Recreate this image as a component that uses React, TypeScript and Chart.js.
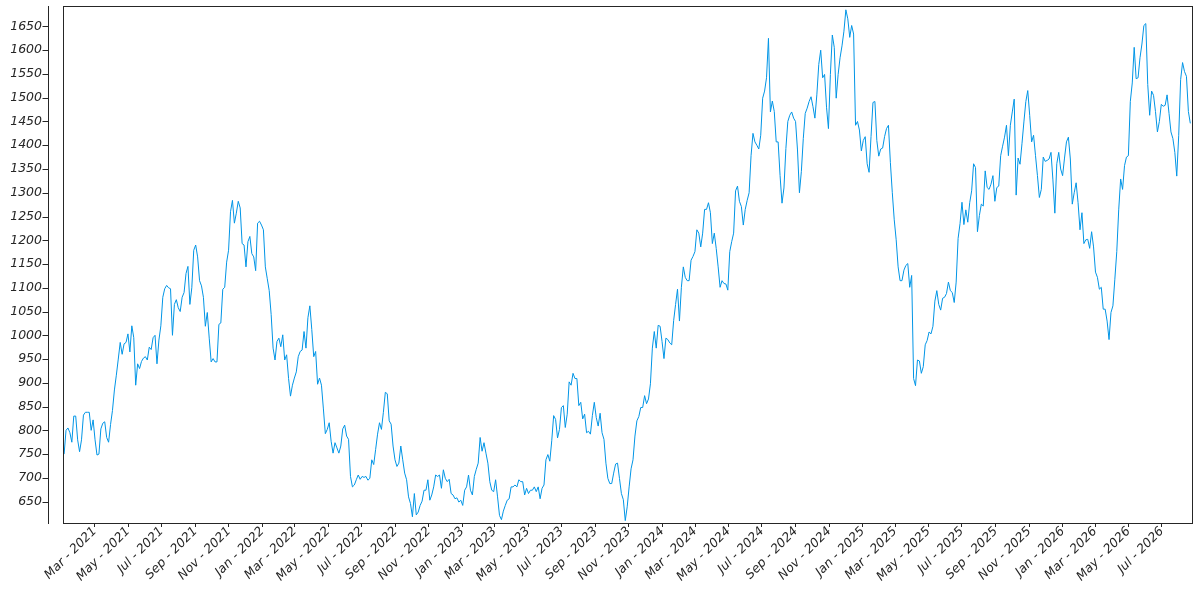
import { useEffect, useRef } from "react";
import {
  Chart,
  LineController,
  LineElement,
  PointElement,
  LinearScale,
} from "chart.js";

Chart.register(LineController, LineElement, PointElement, LinearScale);

const START_DATE = "2021-01-04";
const SAMPLE_DAYS = 3.5325;

const X_MIN_DATE = "2021-01-02";
const X_MAX_DATE = "2026-08-25";
const Y_MIN = 605;
const Y_MAX = 1693;

const prices2021 = [
  750, 800, 805, 795, 775, 830, 830, 780, 755, 780, 832, 838, 838, 838, 800, 822, 780, 748, 750, 803,
  815, 818, 785, 775, 812, 842, 885, 916, 950, 985, 960, 982, 985, 1003, 965, 1020, 995, 895, 940, 930,
  945, 952, 955, 948, 975, 970, 995, 1000, 940, 990, 1020, 1080, 1098, 1105, 1100, 1098, 1000, 1065,
  1075, 1058, 1050, 1080, 1090, 1130, 1145, 1065, 1100, 1179,
  1190, 1165, 1115, 1104, 1080, 1019, 1048, 994, 944, 951, 944, 944, 1023, 1026, 1097, 1101, 1154,
  1179, 1260, 1284, 1236, 1257, 1282, 1268, 1193, 1190, 1144, 1197, 1208, 1172, 1165, 1136,
];

const prices2022 = [
  1236, 1240, 1232, 1222, 1144, 1119, 1094, 1044, 973, 948, 987, 994, 976, 1001, 948, 959, 909, 872,
  895, 910, 923, 955, 966, 969, 1008, 973, 1037, 1062, 1012, 955, 966, 897,
  910, 895, 845, 793, 802, 816, 777, 752, 774, 763, 752, 767, 803, 811, 788, 781, 703, 681, 685, 696,
  706, 697, 703, 701, 703, 695, 699, 738, 728, 760, 792, 816, 802, 838, 880, 877, 820, 813, 767, 738,
  724, 731, 767, 738, 710, 696, 660, 646, 618, 667, 622, 628, 642, 651, 674, 674, 696, 653, 664, 681,
  706, 703, 706, 678,
];

const prices2023 = [
  717, 699, 692, 697, 667, 664, 656, 658, 649, 653, 642, 674, 681, 706, 674, 664, 703, 718, 731, 785,
  756, 774, 752, 731, 692, 674, 671, 696, 660, 621, 612, 630, 642, 653, 656, 681, 681, 685, 681, 696,
  692, 692, 664, 678, 667, 674, 674, 681, 671, 681, 656, 678, 685, 738, 749, 735, 778, 831, 823, 784,
  802, 848, 852, 806, 834, 902,
  895, 920, 909, 909, 852, 859, 824, 834, 795, 798, 792, 831, 859, 827, 809, 836, 795, 781, 731, 699,
  688, 688, 710, 729, 731, 699, 667, 654, 610, 639, 681, 719, 738, 788, 820, 829, 848, 848, 873, 856,
  866, 898,
];

const prices2024 = [
  973, 1008, 973, 1021, 1019, 987, 951, 994, 991, 984, 980, 1031, 1065, 1097, 1030, 1101, 1144, 1122,
  1115, 1115, 1158, 1166, 1176, 1222,
  1215, 1186, 1215, 1265, 1265, 1279, 1258, 1193, 1215, 1183, 1144, 1101, 1115, 1109, 1108, 1095,
  1176, 1197, 1215, 1304, 1314, 1282, 1271, 1232, 1265, 1284, 1300, 1378, 1425, 1407, 1400, 1392,
  1421, 1499, 1514, 1542, 1625, 1470, 1493, 1471, 1407, 1407, 1336, 1278, 1310, 1393, 1450, 1463,
  1470, 1457, 1450, 1390, 1300, 1345, 1414, 1467, 1478, 1492, 1502, 1481, 1457, 1506, 1570, 1600,
  1542, 1549, 1480, 1435, 1549, 1632, 1606, 1499, 1549, 1584, 1609, 1640, 1685, 1666, 1627, 1652,
];

const prices2025 = [
  1634, 1442, 1450, 1432, 1388, 1410, 1418, 1361, 1343, 1418, 1490, 1492, 1410, 1377, 1392, 1394,
  1418, 1435, 1442, 1364, 1300, 1243, 1201, 1144, 1115, 1115, 1137, 1147, 1151, 1101, 1126, 909,
  894, 948, 946, 920, 934, 980, 989, 1007, 1003, 1019, 1072, 1094, 1065, 1053, 1078, 1080, 1088, 1112,
  1094, 1090, 1069, 1112, 1204, 1235, 1280, 1233, 1264, 1238, 1279, 1304, 1361, 1353, 1218, 1252,
  1276, 1272, 1346, 1311, 1307, 1318, 1336, 1282, 1311, 1314, 1378, 1398, 1417, 1442, 1378, 1442,
  1470, 1497, 1295, 1373, 1360, 1403, 1449, 1492, 1515, 1463, 1407, 1421, 1378, 1336, 1290, 1307,
  1375, 1366, 1368, 1371, 1385, 1327, 1257, 1361, 1385, 1350, 1336, 1373,
];

const prices2026 = [
  1407, 1417, 1371, 1276, 1300, 1321,
  1279, 1222, 1258, 1193, 1201, 1202, 1183, 1218, 1186, 1133, 1122, 1097, 1101, 1055, 1055, 1030,
  991, 1048, 1062, 1118, 1176, 1264, 1329, 1307, 1357, 1375, 1378, 1492, 1531, 1606, 1540, 1542,
  1584, 1613, 1652, 1656, 1528, 1463, 1514, 1505, 1471, 1428, 1450, 1486, 1482, 1484, 1506, 1467,
  1428, 1414, 1385, 1335, 1420, 1538, 1574, 1555, 1545, 1471, 1446,
];

const prices = [...prices2021, ...prices2022, ...prices2023, ...prices2024, ...prices2025, ...prices2026];

const yTicks = [
  650, 700, 750, 800, 850, 900, 950, 1000, 1050, 1100, 1150, 1200, 1250, 1300, 1350, 1400,
  1450, 1500, 1550, 1600, 1650,
];

const tickDates = [
  "2021-03-01", "2021-05-01", "2021-07-01", "2021-09-01", "2021-11-01",
  "2022-01-01", "2022-03-01", "2022-05-01", "2022-07-01", "2022-09-01", "2022-11-01",
  "2023-01-01", "2023-03-01", "2023-05-01", "2023-07-01", "2023-09-01", "2023-11-01",
  "2024-01-01", "2024-03-01", "2024-05-01", "2024-07-01", "2024-09-01", "2024-11-01",
  "2025-01-01", "2025-03-01", "2025-05-01", "2025-07-01", "2025-09-01", "2025-11-01",
  "2026-01-01", "2026-03-01", "2026-05-01", "2026-07-01",
];

const monthNames = ["Jan", "Feb", "Mar", "Apr", "May", "Jun", "Jul", "Aug", "Sep", "Oct", "Nov", "Dec"];

const DAY = 86400000;
const toDay = (s: string) => Date.parse(s + "T00:00:00Z") / DAY;
const dayLabel = (d: number) => {
  const dt = new Date(Math.round(d) * DAY);
  return `${monthNames[dt.getUTCMonth()]} - ${dt.getUTCFullYear()}`;
};

const INK = "#262626";
const xFont = { family: "DejaVu Sans", size: 12.5, style: "italic" as const };
const yFont = { family: "DejaVu Sans", size: 12.5, style: "italic" as const, lineHeight: 0.96 };

// box around the plot + the offset left spine with its ticks
const framePlugin = {
  id: "frame",
  afterDraw(chart: Chart) {
    const { ctx, chartArea: a } = chart;
    const ys = chart.scales.y;
    ctx.save();
    ctx.strokeStyle = INK;
    ctx.lineWidth = 1;
    ctx.strokeRect(Math.round(a.left) + 0.5, Math.round(a.top) + 0.5, Math.round(a.right - a.left), Math.round(a.bottom - a.top));
    const sx = Math.round(a.left) - 15 + 0.5;
    ctx.beginPath();
    ctx.moveTo(sx, Math.round(a.top));
    ctx.lineTo(sx, Math.round(a.bottom) + 1);
    for (const v of yTicks) {
      const py = Math.round(ys.getPixelForValue(v)) + 0.5;
      ctx.moveTo(sx - 6, py);
      ctx.lineTo(sx, py);
    }
    ctx.stroke();
    ctx.restore();
  },
};

const PriceChart = () => {
  const canvasRef = useRef<HTMLCanvasElement | null>(null);
  const chartRef = useRef<Chart | null>(null);

  useEffect(() => {
    if (!canvasRef.current) return;
    const ctx = canvasRef.current.getContext("2d");
    if (!ctx) return;

    const start = toDay(START_DATE);
    const points = prices.map((v, i) => ({ x: start + i * SAMPLE_DAYS, y: v }));

    chartRef.current = new Chart(ctx, {
      type: "line",
      data: {
        datasets: [
          {
            data: points,
            borderColor: "#0095e6",
            borderWidth: 1,
            pointRadius: 0,
            tension: 0,
            fill: false,
          },
        ],
      },
      options: {
        animation: false,
        responsive: true,
        maintainAspectRatio: false,
        layout: { padding: { top: 0, right: 8, bottom: 0, left: 0 } },
        plugins: {
          legend: { display: false },
          tooltip: { enabled: false },
        },
        scales: {
          x: {
            type: "linear",
            min: toDay(X_MIN_DATE),
            max: toDay(X_MAX_DATE),
            afterBuildTicks: (axis) => {
              axis.ticks = tickDates.map((d) => ({ value: toDay(d) }));
            },
            afterFit: (axis) => {
              axis.height = 77;
            },
            ticks: {
              autoSkip: false,
              minRotation: 45,
              maxRotation: 45,
              padding: -3,
              color: INK,
              font: xFont,
              callback: (v) => dayLabel(Number(v)),
            },
            grid: {
              display: true,
              drawOnChartArea: false,
              drawTicks: true,
              tickLength: 4,
              color: INK,
            },
            border: { display: false },
          },
          y: {
            type: "linear",
            min: Y_MIN,
            max: Y_MAX,
            afterBuildTicks: (axis) => {
              axis.ticks = yTicks.map((v) => ({ value: v }));
            },
            afterFit: (axis) => {
              axis.width = 63;
            },
            ticks: {
              padding: 0,
              color: INK,
              font: yFont,
              callback: (v) => String(v),
            },
            // transparent tick marks only push the labels left; the real ones are drawn by framePlugin
            grid: {
              display: true,
              drawOnChartArea: false,
              drawTicks: true,
              tickLength: 21,
              color: "rgba(0,0,0,0)",
            },
            border: { display: false },
          },
        },
      },
      plugins: [framePlugin],
    });

    return () => {
      chartRef.current?.destroy();
    };
  }, []);

  return (
    <div style={{ position: "absolute", left: 0, top: 0, width: 1200, height: 600, background: "#fff" }}>
      <canvas ref={canvasRef} />
    </div>
  );
};

export default function App() {
  return <PriceChart />;
}
